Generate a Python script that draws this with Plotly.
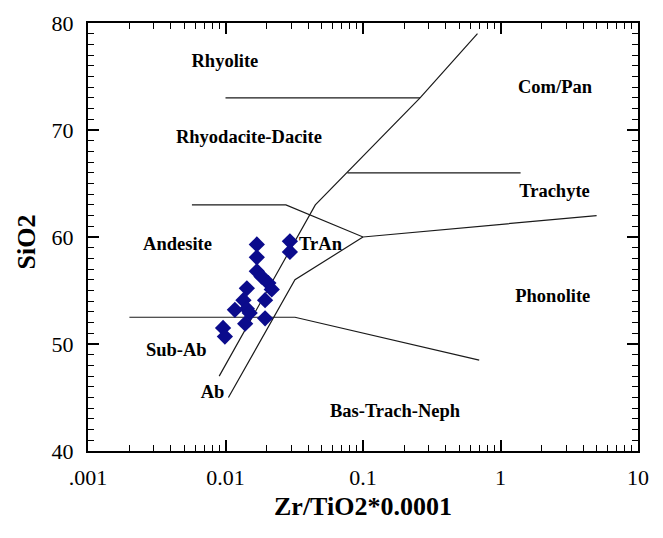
import plotly.graph_objects as go

# ---- sample data (Zr/TiO2*0.0001 vs SiO2) ----
zr_tio2 = [0.0169, 0.0294, 0.0294, 0.0169, 0.0169, 0.0183, 0.0205, 0.0217,
           0.0143, 0.0194, 0.0135, 0.0143, 0.0117, 0.0150, 0.0194, 0.0139,
           0.0096, 0.0099]
sio2 = [59.3, 59.6, 58.6, 58.1, 56.8, 56.3, 55.7, 55.1,
        55.2, 54.1, 54.1, 53.3, 53.2, 52.9, 52.4, 51.9,
        51.5, 50.7]

# ---- field boundaries ----
b_rhy_x = [0.01, 0.26]
b_rhy_y = [73, 73]
b_diag_x = [0.009, 0.045, 0.26, 0.68]
b_diag_y = [47, 63, 73, 79]
b_trach_x = [0.077, 1.4]
b_trach_y = [66, 66]
b_and_x = [0.0057, 0.0275, 0.1, 5.0]
b_and_y = [63, 63, 60, 62]
b_tran_x = [0.0105, 0.032, 0.1]
b_tran_y = [45, 56, 60]
b_sub_x = [0.002, 0.032, 0.7]
b_sub_y = [52.5, 52.5, 48.5]
boundaries = [(b_rhy_x, b_rhy_y), (b_diag_x, b_diag_y), (b_trach_x, b_trach_y),
              (b_and_x, b_and_y), (b_tran_x, b_tran_y), (b_sub_x, b_sub_y)]

# ---- field labels ----
lab_text = ["Rhyolite", "Rhyodacite-Dacite", "Com/Pan", "Trachyte", "Andesite",
            "TrAn", "Phonolite", "Sub-Ab", "Ab", "Bas-Trach-Neph"]
lab_x = [0.0099, 0.0148, 2.49, 2.47, 0.00448, 0.0491, 2.40, 0.00439, 0.00804, 0.171]
lab_y = [76.3, 69.25, 73.9, 64.2, 59.25, 59.25, 54.4, 49.3, 45.4, 43.6]

x_tickvals = [0.001, 0.01, 0.1, 1, 10]
x_ticktext = [".001", "0.01", "0.1", "1", "10"]
y_tickvals = [40, 50, 60, 70, 80]

fig = go.Figure()
for bx, by in boundaries:
    fig.add_trace(go.Scatter(x=bx, y=by, mode="lines",
                             line=dict(color="#1a1a1a", width=1.2),
                             hoverinfo="skip", showlegend=False))

fig.add_trace(go.Scatter(x=zr_tio2, y=sio2, mode="markers",
                         marker=dict(symbol="diamond", size=12.5, color="#0b0b8c",
                                     line=dict(width=0)),
                         showlegend=False))

fig.add_trace(go.Scatter(x=lab_x, y=lab_y, mode="text", text=lab_text,
                         textposition="middle center",
                         textfont=dict(family="Liberation Serif", size=18.5,
                                       color="black", weight="bold"),
                         hoverinfo="skip", showlegend=False))

minor_x = [m * 10 ** e for e in range(-3, 1) for m in range(2, 10)]

axis_font = dict(family="Liberation Serif", size=22, color="black")

fig.update_layout(
    width=663, height=538,
    margin=dict(l=88, r=25, t=23, b=87),
    paper_bgcolor="white", plot_bgcolor="white",
    xaxis=dict(type="log", range=[-3, 1], tickvals=x_tickvals, ticktext=x_ticktext,
               ticks="inside", ticklen=11, tickwidth=1.5, tickcolor="black",
               showline=True, linecolor="black", linewidth=2, mirror="ticks",
               showgrid=False, zeroline=False, tickfont=axis_font,
               ticklabelstandoff=6,
               minor=dict(tickvals=minor_x, ticks="inside", ticklen=6,
                          tickwidth=1.2, tickcolor="black", showgrid=False)),
    yaxis=dict(range=[40, 80], tickvals=y_tickvals,
               ticks="inside", ticklen=11, tickwidth=1.5, tickcolor="black",
               showline=True, linecolor="black", linewidth=2, mirror="ticks",
               showgrid=False, zeroline=False, tickfont=axis_font,
               ticklabelstandoff=8,
               minor=dict(dtick=1, ticks="inside", ticklen=6, tickwidth=1.2,
                          tickcolor="black", showgrid=False)),
    annotations=[
        dict(text="<b>Zr/TiO2*0.0001</b>", xref="paper", yref="paper",
             x=0.5, y=-0.1308, xanchor="center", yanchor="middle",
             showarrow=False, font=dict(family="Liberation Serif", size=26, color="black")),
        dict(text="<b>SiO2</b>", xref="paper", yref="paper",
             x=-0.1115, y=0.489, xanchor="center", yanchor="middle", textangle=-90,
             showarrow=False, font=dict(family="Liberation Serif", size=26, color="black")),
    ],
)

fig.write_html("out.html", config={"displayModeBar": False},
               post_script="document.body.style.margin='0px';"
                           "document.body.style.overflow='hidden';")
